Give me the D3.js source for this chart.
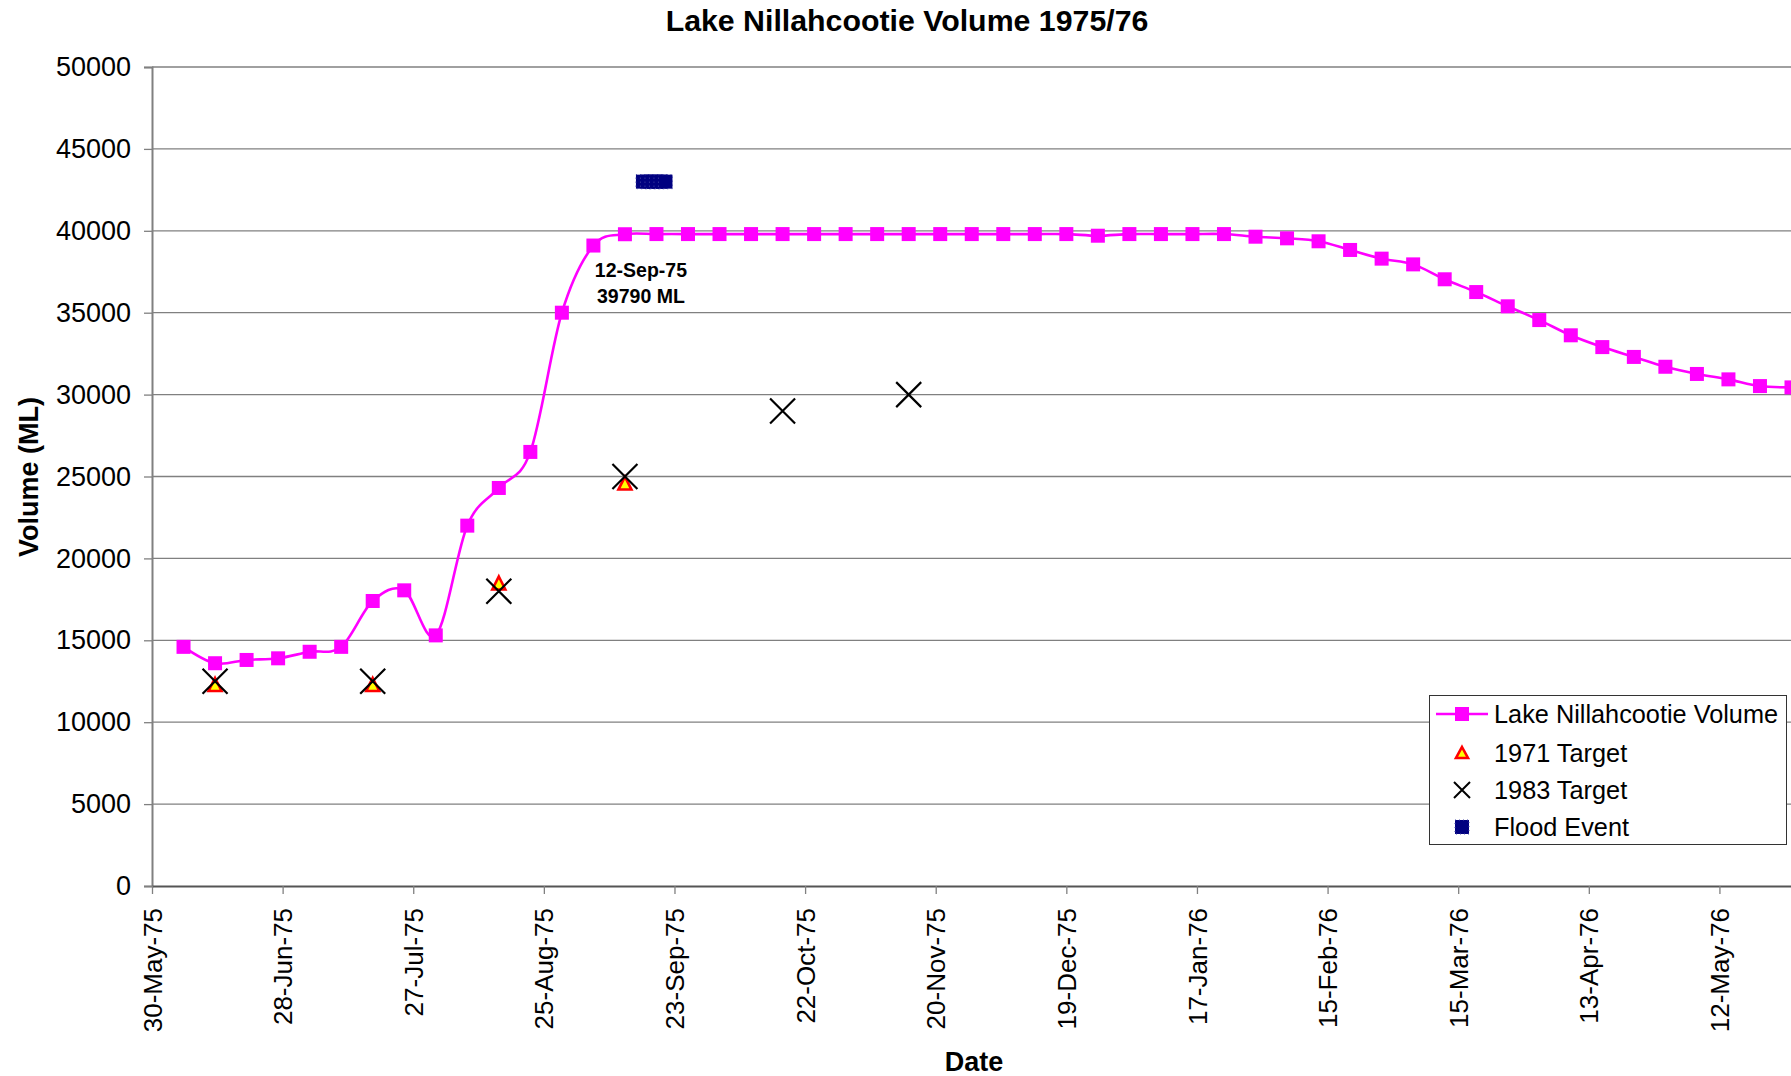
<!DOCTYPE html>
<html>
<head>
<meta charset="utf-8">
<script src="https://cdn.jsdelivr.net/npm/d3@7"></script>
<style>
  html, body { margin: 0; padding: 0; background: #fff; }
  svg { display: block; font-family: "Liberation Sans", Arial, sans-serif; }
</style>
</head>
<body>
<svg id="chart" width="1791" height="1076"></svg>
<script>
// Weekly storage readings, Lake Nillahcootie 1975/76 (ML)
const volumeDates = [
  "6-Jun-75","13-Jun-75","20-Jun-75","27-Jun-75","4-Jul-75","11-Jul-75","18-Jul-75","25-Jul-75",
  "1-Aug-75","8-Aug-75","15-Aug-75","22-Aug-75","29-Aug-75","5-Sep-75","12-Sep-75","19-Sep-75",
  "26-Sep-75","3-Oct-75","10-Oct-75","17-Oct-75","24-Oct-75","31-Oct-75","7-Nov-75","14-Nov-75",
  "21-Nov-75","28-Nov-75","5-Dec-75","12-Dec-75","19-Dec-75","26-Dec-75","2-Jan-76","9-Jan-76",
  "16-Jan-76","23-Jan-76","30-Jan-76","6-Feb-76","13-Feb-76","20-Feb-76","27-Feb-76","5-Mar-76",
  "12-Mar-76","19-Mar-76","26-Mar-76","2-Apr-76","9-Apr-76","16-Apr-76","23-Apr-76","30-Apr-76",
  "7-May-76","14-May-76","21-May-76","28-May-76"
];
const volumeValues = [
  14600, 13600, 13800, 13900, 14300, 14600, 17400, 18050,
  15300, 22000, 24300, 26500, 35000, 39100, 39790, 39800,
  39800, 39800, 39800, 39800, 39800, 39800, 39800, 39800,
  39800, 39800, 39800, 39800, 39800, 39700, 39800, 39800,
  39800, 39800, 39640, 39540, 39360, 38830, 38300, 37950,
  37040, 36260, 35390, 34550, 33620, 32900, 32300, 31700,
  31260, 30930, 30520, 30440
];

// 1971 operating targets
const target1971Dates = ["13-Jun-75", "18-Jul-75", "15-Aug-75", "12-Sep-75"];
const target1971Values = [12300, 12300, 18500, 24600];

// 1983 operating targets
const target1983Dates = ["13-Jun-75", "18-Jul-75", "15-Aug-75", "12-Sep-75", "17-Oct-75", "14-Nov-75"];
const target1983Values = [12500, 12500, 18000, 25000, 29000, 30000];

// Flood event (daily)
const floodDates = ["16-Sep-75", "17-Sep-75", "18-Sep-75", "19-Sep-75", "20-Sep-75", "21-Sep-75"];
const floodValues = [43000, 43000, 43000, 43000, 43000, 43000];

// Axis ticks
const xTickLabels = [
  "30-May-75","28-Jun-75","27-Jul-75","25-Aug-75","23-Sep-75","22-Oct-75","20-Nov-75",
  "19-Dec-75","17-Jan-76","15-Feb-76","15-Mar-76","13-Apr-76","12-May-76"
];
const yTickValues = [0, 5000, 10000, 15000, 20000, 25000, 30000, 35000, 40000, 45000, 50000];
const xDomainLabels = ["30-May-75", "29-May-76"];

// Annotated reading
const noteDate = "12-Sep-75";
const noteValue = 39790;

const legendLabels = ["Lake Nillahcootie Volume", "1971 Target", "1983 Target", "Flood Event"];

const parse = d3.timeParse("%d-%b-%y");
const fmt = d3.timeFormat("%d-%b-%y");

const plot = { left: 152, right: 1796, top: 67, bottom: 886 };
const svg = d3.select("#chart");

const x = d3.scaleTime()
  .domain(xDomainLabels.map(parse))
  .range([plot.left, plot.right]);
const y = d3.scaleLinear()
  .domain([0, 50000])
  .range([plot.bottom, plot.top]);

// Horizontal gridlines
svg.append("g")
  .selectAll("line")
  .data(yTickValues.filter(v => v > 0))
  .join("line")
  .attr("x1", plot.left).attr("x2", plot.right)
  .attr("y1", d => y(d)).attr("y2", d => y(d))
  .attr("stroke", "#808080").attr("stroke-width", 1.3);

// Y axis
const yAxis = svg.append("g")
  .attr("transform", `translate(${plot.left},0)`)
  .call(d3.axisLeft(y).tickValues(yTickValues).tickSize(8).tickPadding(13).tickFormat(d3.format("d")));
yAxis.select(".domain").attr("stroke", "#808080").attr("stroke-width", 2);
yAxis.selectAll(".tick line").attr("stroke", "#808080").attr("stroke-width", 1.3);
yAxis.selectAll(".tick text")
  .attr("font-size", 27).attr("fill", "#000")
  .attr("font-family", "'Liberation Sans', Arial, sans-serif");

// X axis
const xAxis = svg.append("g")
  .attr("transform", `translate(0,${plot.bottom})`)
  .call(d3.axisBottom(x).tickValues(xTickLabels.map(parse)).tickFormat(fmt).tickSize(8).tickSizeOuter(0));
xAxis.select(".domain").attr("stroke", "#555").attr("stroke-width", 2);
xAxis.selectAll(".tick line").attr("stroke", "#808080").attr("stroke-width", 1.3);
xAxis.selectAll(".tick text")
  .attr("font-size", 26).attr("fill", "#000")
  .attr("font-family", "'Liberation Sans', Arial, sans-serif")
  .attr("text-anchor", "end")
  .attr("transform", "rotate(-90)")
  .attr("x", -22).attr("y", 0).attr("dy", "0.35em");

// Volume series: smoothed line with square markers
const volume = volumeDates.map((d, i) => ({ date: parse(d), value: volumeValues[i] }));
const line = d3.line()
  .x(d => x(d.date)).y(d => y(d.value))
  .curve(d3.curveCatmullRom.alpha(0));
svg.append("path")
  .datum(volume)
  .attr("d", line)
  .attr("fill", "none")
  .attr("stroke", "#ff00ff")
  .attr("stroke-width", 2.6);
const sq = 14;
svg.append("g")
  .selectAll("rect")
  .data(volume)
  .join("rect")
  .attr("x", d => x(d.date) - sq / 2)
  .attr("y", d => y(d.value) - sq / 2)
  .attr("width", sq).attr("height", sq)
  .attr("fill", "#ff00ff");

// Triangle marker path centred on (0,0)
function triPath(w, h) {
  return `M0,${-h / 2}L${w / 2},${h / 2}L${-w / 2},${h / 2}Z`;
}
function crossPath(s) {
  const h = s / 2;
  return `M${-h},${-h}L${h},${h}M${-h},${h}L${h},${-h}`;
}

// 1971 targets
const t1971 = target1971Dates.map((d, i) => ({ date: parse(d), value: target1971Values[i] }));
svg.append("g")
  .selectAll("path")
  .data(t1971)
  .join("path")
  .attr("d", triPath(13, 13))
  .attr("transform", d => `translate(${x(d.date)},${y(d.value)})`)
  .attr("fill", "#ffff00").attr("stroke", "#ff0000").attr("stroke-width", 2.6)
  .attr("stroke-linejoin", "miter");

// 1983 targets
const t1983 = target1983Dates.map((d, i) => ({ date: parse(d), value: target1983Values[i] }));
svg.append("g")
  .selectAll("path")
  .data(t1983)
  .join("path")
  .attr("d", crossPath(25))
  .attr("transform", d => `translate(${x(d.date)},${y(d.value)})`)
  .attr("fill", "none").attr("stroke", "#000").attr("stroke-width", 2.2);

// Flood event markers
const flood = floodDates.map((d, i) => ({ date: parse(d), value: floodValues[i] }));
svg.append("g")
  .selectAll("rect")
  .data(flood)
  .join("rect")
  .attr("x", d => x(d.date) - 7)
  .attr("y", d => y(d.value) - 7)
  .attr("width", 14).attr("height", 14)
  .attr("fill", "#000080")
  .attr("stroke", "#4a4aa8").attr("stroke-width", 1).attr("stroke-dasharray", "1,3");

// Annotation for the first full reading
const noteX = x(parse(noteDate)) + 16;
const noteY = y(noteValue);
const note = svg.append("text")
  .attr("text-anchor", "middle")
  .attr("font-size", 19.5).attr("font-weight", "bold").attr("fill", "#000");
note.append("tspan").attr("x", noteX).attr("y", noteY + 43).text(noteDate);
note.append("tspan").attr("x", noteX).attr("y", noteY + 69).text(`${noteValue} ML`);

// Titles
svg.append("text")
  .attr("x", 907).attr("y", 31)
  .attr("text-anchor", "middle")
  .attr("font-size", 30.3).attr("font-weight", "bold")
  .text("Lake Nillahcootie Volume 1975/76");
svg.append("text")
  .attr("transform", "translate(38,477) rotate(-90)")
  .attr("text-anchor", "middle")
  .attr("font-size", 27).attr("font-weight", "bold")
  .text("Volume (ML)");
svg.append("text")
  .attr("x", 974).attr("y", 1071)
  .attr("text-anchor", "middle")
  .attr("font-size", 27).attr("font-weight", "bold")
  .text("Date");

// Legend
const lg = svg.append("g").attr("transform", "translate(1429,695)");
lg.append("rect")
  .attr("x", 0.5).attr("y", 0.5).attr("width", 357).attr("height", 149)
  .attr("fill", "#fff").attr("stroke", "#333").attr("stroke-width", 1);
const rowY = [19, 57.5, 95, 132];
const mx = 33;
lg.append("line").attr("x1", 7).attr("x2", 59).attr("y1", rowY[0]).attr("y2", rowY[0])
  .attr("stroke", "#ff00ff").attr("stroke-width", 2.6);
lg.append("rect").attr("x", mx - 7).attr("y", rowY[0] - 7).attr("width", 14).attr("height", 14)
  .attr("fill", "#ff00ff");
lg.append("path").attr("d", triPath(12, 11)).attr("transform", `translate(${mx},${rowY[1]})`)
  .attr("fill", "#ffff00").attr("stroke", "#ff0000").attr("stroke-width", 2.6);
lg.append("path").attr("d", crossPath(16)).attr("transform", `translate(${mx},${rowY[2]})`)
  .attr("fill", "none").attr("stroke", "#000").attr("stroke-width", 2);
lg.append("rect").attr("x", mx - 7).attr("y", rowY[3] - 7).attr("width", 14).attr("height", 14)
  .attr("fill", "#000080").attr("stroke", "#4a4aa8").attr("stroke-width", 1).attr("stroke-dasharray", "1,3");
lg.selectAll("text.lab")
  .data(legendLabels)
  .join("text")
  .attr("class", "lab")
  .attr("x", 65).attr("y", (d, i) => rowY[i])
  .attr("dy", "0.36em")
  .attr("font-size", 25.3).attr("fill", "#000")
  .text(d => d);
</script>
</body>
</html>
